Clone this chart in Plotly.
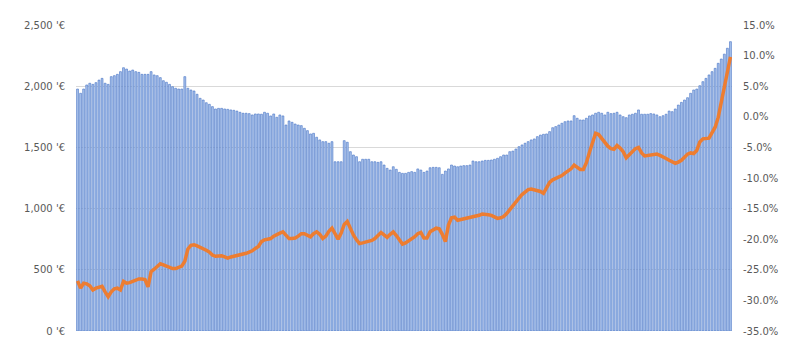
import plotly.graph_objects as go

# Monthly average value (EUR)
bar_values = [
    1977, 1942, 1977, 2010, 2024, 2015, 2029, 2050, 2064, 2024,
    2015, 2078, 2086, 2097, 2119, 2151, 2140, 2124, 2132, 2119,
    2113, 2097, 2097, 2097, 2119, 2092, 2086, 2070, 2045, 2032,
    2015, 1996, 1983, 1977, 1977, 2078, 1983, 1969, 1961, 1934,
    1901, 1887, 1865, 1852, 1833, 1814, 1819, 1819, 1814, 1811,
    1806, 1803, 1797, 1787, 1779, 1779, 1776, 1765, 1773, 1773,
    1771, 1787, 1779, 1757, 1773, 1746, 1765, 1757, 1683, 1716,
    1705, 1691, 1683, 1678, 1656, 1637, 1610, 1615, 1583, 1561,
    1547, 1547, 1534, 1547, 1383, 1383, 1383, 1555, 1542, 1465,
    1438, 1424, 1383, 1403, 1403, 1403, 1383, 1383, 1378, 1383,
    1356, 1329, 1315, 1342, 1321, 1296, 1288, 1288, 1296, 1302,
    1296, 1324, 1315, 1296, 1307, 1334, 1337, 1337, 1334, 1280,
    1307, 1324, 1356, 1348, 1342, 1348, 1351, 1351, 1356, 1389,
    1383, 1383, 1389, 1394, 1394, 1397, 1403, 1411, 1424, 1438,
    1438,
    1465, 1470, 1487, 1506, 1520, 1534, 1547, 1561, 1569, 1588,
    1601, 1607, 1610, 1629, 1661, 1670, 1683, 1697, 1710, 1716,
    1716, 1759, 1738, 1724, 1724, 1738, 1757, 1765, 1779, 1787,
    1779, 1765, 1787, 1776, 1779, 1787, 1765, 1751, 1743, 1765,
    1771, 1779, 1806, 1771, 1771, 1771, 1776, 1773, 1765, 1751,
    1759, 1771, 1797, 1792, 1814, 1846, 1868, 1887, 1906, 1942,
    1969, 1977, 2004, 2037, 2064, 2092, 2119, 2146, 2187, 2222,
    2262, 2310, 2364,
]

# Year-on-year change (%)
line_values = [
    -26.8, -28.0, -27.2, -27.3, -27.6, -28.3, -28.0, -27.8, -27.7, -28.6,
    -29.4, -28.6, -28.1, -28.0, -28.3, -26.9, -27.2, -27.1, -26.9, -26.7,
    -26.5, -26.5, -26.6, -27.8, -25.3, -24.9, -24.5, -24.0, -24.2, -24.4,
    -24.6, -24.8, -24.8, -24.6, -24.4, -23.6, -21.6, -21.0, -20.9, -21.1,
    -21.3, -21.5, -21.8, -22.1, -22.6, -22.8, -22.8, -22.7, -22.9, -23.1,
    -22.9, -22.8, -22.6, -22.5, -22.4, -22.3, -22.1, -21.9, -21.5, -21.2,
    -20.4, -20.1, -20.0, -19.9, -19.5, -19.2, -19.0, -18.8, -19.4, -19.9,
    -19.9, -19.8, -19.5, -19.1, -19.1, -19.4, -19.6, -19.1, -18.8, -19.2,
    -19.9, -19.5, -18.7, -18.2, -19.2, -20.0, -19.0, -17.6, -17.1, -18.3,
    -19.3, -20.1, -20.7, -20.6, -20.5, -20.4, -20.2, -19.9, -19.4, -18.9,
    -19.3, -19.7, -19.2, -18.8, -19.4, -20.1, -20.8, -20.6, -20.3, -20.0,
    -19.6, -19.1, -18.9, -19.8, -19.8, -18.8, -18.5, -18.2, -18.3, -19.2,
    -20.4, -17.7, -16.5, -16.4, -16.9, -16.8, -16.7, -16.6, -16.5, -16.3,
    -16.2, -16.1, -15.9, -15.9, -16.0, -16.1, -16.4, -16.6, -16.5, -16.3,
    -15.8, -15.2, -14.4, -13.8, -13.2, -12.7, -12.3, -11.9, -11.8, -11.9,
    -12.0, -12.2, -12.5, -11.6, -10.7, -10.3, -10.1, -9.9, -9.6, -9.2,
    -8.9, -8.5, -7.9, -8.3, -8.6, -8.6, -7.5, -5.8, -4.0, -2.7,
    -2.9, -3.5, -4.3, -4.8, -5.2, -5.3, -4.7, -5.1, -5.7, -6.7,
    -6.2, -5.7, -5.2, -5.0, -5.9, -6.4, -6.3, -6.2, -6.1, -6.1,
    -6.3, -6.5, -6.8, -7.1, -7.3, -7.6, -7.4, -7.1, -6.6, -6.1,
    -5.9, -6.0, -5.5, -4.1, -3.6, -3.5, -3.5, -2.6, -1.7, -0.1,
    2.4, 5.3, 7.9, 9.8,
]

periods = list(range(len(bar_values)))

left_ticks = [0, 500, 1000, 1500, 2000, 2500]
left_labels = ["0 '€", "500 '€", "1,000 '€", "1,500 '€", "2,000 '€", "2,500 '€"]
right_ticks = [-35, -30, -25, -20, -15, -10, -5, 0, 5, 10, 15]
right_labels = ["-35.0%", "-30.0%", "-25.0%", "-20.0%", "-15.0%", "-10.0%",
                "-5.0%", "0.0%", "5.0%", "10.0%", "15.0%"]

fig = go.Figure()
fig.add_trace(go.Bar(
    x=periods, y=bar_values,
    marker=dict(color="#a9c2ec", line=dict(color="#4472c4", width=0.6)),
    yaxis="y", showlegend=False,
))
fig.add_trace(go.Scatter(
    x=periods, y=line_values, mode="lines",
    line=dict(color="#ed7d31", width=3.5),
    yaxis="y2", showlegend=False,
))

font = dict(family="DejaVu Sans", size=10, color="#595959")
fig.update_layout(
    width=795, height=355,
    margin=dict(l=76, r=63, t=25, b=24),
    paper_bgcolor="white", plot_bgcolor="white",
    bargap=0.38,
    xaxis=dict(range=[-0.5, len(bar_values) - 0.5], showticklabels=False,
               showgrid=False, zeroline=False, ticks=""),
    yaxis=dict(range=[0, 2500], tickvals=left_ticks, ticktext=left_labels,
               showgrid=True, gridcolor="#d9d9d9", gridwidth=1, zeroline=False,
               tickfont=font, ticks="", ticklabelstandoff=10),
    yaxis2=dict(range=[-35, 15], tickvals=right_ticks, ticktext=right_labels,
                overlaying="y", side="right", showgrid=False, zeroline=False,
                tickfont=font, ticks="", ticklabelstandoff=10),
)

fig.write_html("out.html")
